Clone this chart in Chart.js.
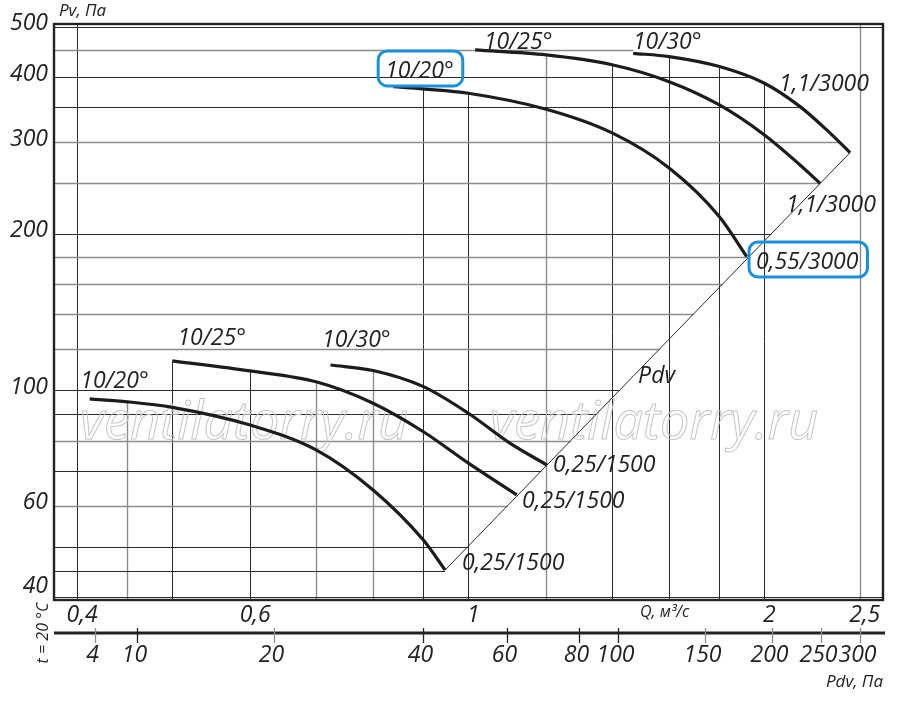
<!DOCTYPE html>
<html>
<head>
<meta charset="utf-8">
<script src="https://cdn.jsdelivr.net/npm/chart.js@4.4.0/dist/chart.umd.min.js"></script>
<style>
  html, body { margin: 0; padding: 0; background: #fff; }
  #wrap { width: 900px; height: 701px; position: relative; }
</style>
</head>
<body>
<div id="wrap"><canvas id="chart"></canvas></div>
<script>
'use strict';

// fan curves, Q in m3/s and Pv in Pa
const small20Q = [0.412, 0.45, 0.5, 0.6, 0.7, 0.8, 0.9, 0.947];
const small20Pv = [96.2, 95.0, 92.7, 85.7, 76.8, 64.3, 51.5, 45.1];
const small25Q = [0.5, 0.6, 0.7, 0.8, 0.9, 1.0, 1.12];
const small25Pv = [113.9, 108.9, 103.8, 94.4, 83.2, 72.4, 62.9];
const small30Q = [0.724, 0.8, 0.9, 1.0, 1.103, 1.202];
const small30Pv = [111.8, 109.1, 101.6, 90.3, 79.0, 71.8];
const big20Q = [0.839, 0.9, 1.0, 1.2, 1.4, 1.6, 1.8, 1.919];
const big20Pv = [383.4, 379.6, 372.4, 346.9, 312.4, 267.5, 215.6, 180.6];
const big25Q = [1.016, 1.2, 1.4, 1.6, 1.8, 2.0, 2.174, 2.278];
const big25Pv = [451.2, 441.3, 422.4, 392.0, 353.6, 309.6, 271.1, 250.0];
const big30Q = [1.471, 1.6, 1.8, 2.0, 2.174, 2.314, 2.444];
const big30Pv = [444.4, 438.0, 419.1, 389.3, 351.0, 316.6, 286.3];

// Pdv line (ends of the curves)
const pdvLineQ = [0.947, 2.444];
const pdvLinePv = [45.1, 286.3];

// grid and tick labels
const qGrid = [0.4, 0.45, 0.5, 0.6, 0.7, 0.8, 0.9, 1, 1.2, 1.4, 1.6, 1.8, 2, 2.5];
const pvGrid = [40, 45, 50, 60, 70, 80, 90, 100, 120, 140, 160, 180, 200, 250, 300, 350, 400, 450, 500];
const qTicks = [0.4, 0.6, 1, 2, 2.5];
const qTickLabels = ['0,4', '0,6', '1', '2', '2,5'];
const pvTicks = [40, 60, 100, 200, 300, 400, 500];
const pvTickLabels = ['40', '60', '100', '200', '300', '400', '500'];
const pdvTickLabels = ['4', '10', '20', '40', '60', '80', '100', '150', '200', '250', '300'];
const pdvTickAtQ = [0.4167, 0.460, 0.635, 0.899, 1.094, 1.295, 1.421, 1.741, 2.036, 2.284, 2.504];

const curves = [
  { q: small20Q, pv: small20Pv },
  { q: small25Q, pv: small25Pv },
  { q: small30Q, pv: small30Pv },
  { q: big20Q, pv: big20Pv },
  { q: big25Q, pv: big25Pv },
  { q: big30Q, pv: big30Pv }
];

// text on the plot: anchor is left end of the baseline, in Q / Pv
const notes = [
  { text: '10/20°', q: 0.403, pv: 101.0 },
  { text: '10/25°', q: 0.506, pv: 122.2 },
  { text: '10/30°', q: 0.710, pv: 121.1 },
  { text: '0,25/1500', q: 0.985, pv: 45.1 },
  { text: '0,25/1500', q: 1.134, pv: 59.4 },
  { text: '0,25/1500', q: 1.219, pv: 69.6 },
  { text: 'Pdv', q: 1.488, pv: 103.3 },
  { text: '10/20°', q: 0.823, pv: 398.5, box: true },
  { text: '10/25°', q: 1.037, pv: 453.1 },
  { text: '10/30°', q: 1.470, pv: 453.1 },
  { text: '1,1/3000', q: 2.070, pv: 376.2 },
  { text: '1,1/3000', q: 2.104, pv: 220.2 },
  { text: '0,55/3000', q: 1.961, pv: 171.0, box: true }
];

const FONT = '"Open Sans", "Noto Sans", sans-serif';
const ink = '#222';
const darkQ = new Set([0.4, 0.5, 0.6, 0.9, 1, 1.4, 1.6, 1.8, 2]);
const darkPv = new Set([40, 45, 50, 70, 90, 100, 200, 350, 400, 500]);

function lerpLog(a0, a1, b0, b1, a) {
  let t = (Math.log(a) - Math.log(a0)) / (Math.log(a1) - Math.log(a0));
  return Math.exp(Math.log(b0) + t * (Math.log(b1) - Math.log(b0)));
}

function pvOnCurve(c, q) {
  let n = c.q.length;
  if (q < c.q[0] || q > c.q[n - 1]) return null;
  for (let i = 0; i < n - 1; i++) {
    if (q <= c.q[i + 1]) return lerpLog(c.q[i], c.q[i + 1], c.pv[i], c.pv[i + 1], q);
  }
  return c.pv[n - 1];
}

function qWhereCurveDrops(c, v) {
  let n = c.pv.length;
  if (c.pv[0] < v * 0.985) return null;
  if (c.pv[0] < v) return c.q[0];
  if (c.pv[n - 1] >= v) return c.q[n - 1];
  for (let i = 0; i < n - 1; i++) {
    if (c.pv[i + 1] < v) return lerpLog(c.pv[i], c.pv[i + 1], c.q[i], c.q[i + 1], v);
  }
  return null;
}

function qOnPdvLine(v) {
  if (v > pdvLinePv[1]) return null;
  if (v < pdvLinePv[0]) return pdvLineQ[0];
  return lerpLog(pdvLinePv[0], pdvLinePv[1], pdvLineQ[0], pdvLineQ[1], v);
}

const gridPlugin = {
  id: 'grid',
  beforeDatasetsDraw(chart) {
    const ctx = chart.ctx, a = chart.chartArea;
    const xs = chart.scales.x, ys = chart.scales.y;
    ctx.save();
    ctx.beginPath();
    ctx.rect(a.left, a.top, a.right - a.left, a.bottom - a.top);
    ctx.clip();

    // vertical lines stop at the highest curve above them
    qGrid.forEach(q => {
      let top = null;
      curves.forEach(c => {
        let p = pvOnCurve(c, q);
        if (p !== null && (top === null || p > top)) top = p;
      });
      let x = Math.round(xs.getPixelForValue(q)) + 0.5;
      let y0 = top === null ? a.top : ys.getPixelForValue(top);
      ctx.beginPath();
      ctx.strokeStyle = darkQ.has(q) ? '#2b2b2b' : '#8c8c8c';
      ctx.lineWidth = darkQ.has(q) ? 1 : 1.4;
      ctx.moveTo(x, a.bottom);
      ctx.lineTo(x, y0);
      ctx.stroke();
    });

    // horizontal lines stop at the curves or at the Pdv line
    pvGrid.forEach((v, i) => {
      let xEnd = a.right;
      if (i > 0 && i < pvGrid.length - 1) {
        let qEnv = null;
        curves.forEach(c => {
          let q = qWhereCurveDrops(c, v);
          if (q !== null && (qEnv === null || q > qEnv)) qEnv = q;
        });
        if (qEnv !== null) {
          let qp = qOnPdvLine(v);
          let qEnd = qp === null ? qEnv : Math.min(qEnv, qp);
          xEnd = xs.getPixelForValue(qEnd);
        }
      }
      let y = Math.round(ys.getPixelForValue(v)) + 0.5;
      ctx.beginPath();
      ctx.strokeStyle = darkPv.has(v) ? '#2b2b2b' : '#8c8c8c';
      ctx.lineWidth = darkPv.has(v) ? 1 : 1.4;
      ctx.moveTo(a.left, y);
      ctx.lineTo(xEnd, y);
      ctx.stroke();
    });

    // watermark
    ctx.font = 'italic 48px ' + FONT;
    let w = ctx.measureText('ventilatorry.ru').width;
    let sz = 48 * 328 / w;
    ctx.font = 'italic ' + sz.toFixed(1) + 'px ' + FONT;
    ctx.strokeStyle = '#c6c6c6';
    ctx.lineWidth = 1;
    ctx.textBaseline = 'alphabetic';
    ctx.strokeText('ventilatorry.ru', 80, 439);
    ctx.strokeText('ventilatorry.ru', 490, 439);
    ctx.restore();
  }
};

function roundBox(ctx, x, y, w, h, r) {
  ctx.beginPath();
  ctx.moveTo(x + r, y);
  ctx.arcTo(x + w, y, x + w, y + h, r);
  ctx.arcTo(x + w, y + h, x, y + h, r);
  ctx.arcTo(x, y + h, x, y, r);
  ctx.arcTo(x, y, x + w, y, r);
  ctx.closePath();
}

const textPlugin = {
  id: 'texts',
  afterDatasetsDraw(chart) {
    const ctx = chart.ctx, a = chart.chartArea;
    const xs = chart.scales.x, ys = chart.scales.y;
    ctx.save();
    ctx.fillStyle = ink;
    ctx.font = 'italic 23px ' + FONT;
    ctx.textAlign = 'left';
    ctx.textBaseline = 'alphabetic';
    notes.forEach(n => {
      let x = xs.getPixelForValue(n.q), y = ys.getPixelForValue(n.pv);
      ctx.fillStyle = ink;
      ctx.fillText(n.text, x, y);
      if (n.box) {
        let w = ctx.measureText(n.text).width;
        ctx.strokeStyle = '#1a8fdb';
        ctx.lineWidth = 3;
        roundBox(ctx, x - 7, y - 27, w + 16, 35, 9);
        ctx.stroke();
      }
    });

    // frame
    ctx.strokeStyle = ink;
    ctx.lineWidth = 2.4;
    ctx.strokeRect(a.left, a.top, a.right - a.left, a.bottom - a.top);

    // Pv ticks
    ctx.font = 'italic 23px ' + FONT;
    ctx.textAlign = 'right';
    ctx.textBaseline = 'middle';
    pvTicks.forEach((v, i) => {
      let y = Math.min(ys.getPixelForValue(v) - 3, a.bottom - 14);
      ctx.fillText(pvTickLabels[i], a.left - 6, y);
    });
    ctx.font = 'italic 17px ' + FONT;
    ctx.textAlign = 'left';
    ctx.textBaseline = 'alphabetic';
    ctx.fillText('Pv, Па', a.left + 5, 16);

    // Q ticks
    ctx.font = 'italic 23px ' + FONT;
    ctx.textAlign = 'center';
    qTicks.forEach((q, i) => {
      ctx.fillText(qTickLabels[i], xs.getPixelForValue(q) + 5, a.bottom + 22);
    });
    ctx.font = 'italic 16px ' + FONT;
    ctx.textAlign = 'left';
    ctx.fillText('Q, м³/с', a.right - 243, a.bottom + 17);

    // Pdv axis
    let yAx = a.bottom + 33;
    ctx.beginPath();
    ctx.strokeStyle = ink;
    ctx.lineWidth = 3;
    ctx.moveTo(a.left, yAx);
    ctx.lineTo(a.right + 2, yAx);
    ctx.stroke();
    ctx.font = 'italic 23px ' + FONT;
    ctx.textAlign = 'center';
    pdvTickAtQ.forEach((q, i) => {
      let x = Math.round(xs.getPixelForValue(q)) + 0.5;
      let gray = ['4', '20', '150', '200', '250', '300'].includes(pdvTickLabels[i]);
      ctx.beginPath();
      ctx.strokeStyle = gray ? '#8c8c8c' : ink;
      ctx.lineWidth = 1.3;
      ctx.moveTo(x, yAx - 5);
      ctx.lineTo(x, yAx + 10);
      ctx.stroke();
      ctx.fillText(pdvTickLabels[i], x - 3, yAx + 29);
    });
    ctx.font = 'italic 17px ' + FONT;
    ctx.textAlign = 'right';
    ctx.fillText('Pdv, Па', a.right, yAx + 54);

    ctx.translate(43, yAx);
    ctx.rotate(-Math.PI / 2);
    ctx.font = 'italic 16px ' + FONT;
    ctx.textAlign = 'center';
    ctx.textBaseline = 'middle';
    ctx.fillText('t = 20 °C', 0, 0);
    ctx.restore();
  }
};

let canvasElem = document.getElementById('chart');

function renderChart() {
  let datasets = curves.map(c => ({
    data: c.q.map((q, i) => ({ x: q, y: c.pv[i] })),
    borderColor: '#1c1c1c',
    borderWidth: 3.2,
    pointRadius: 0,
    cubicInterpolationMode: 'monotone',
    fill: false
  }));
  datasets.push({
    data: pdvLineQ.map((q, i) => ({ x: q, y: pdvLinePv[i] })),
    borderColor: '#2a2a2a',
    borderWidth: 1,
    pointRadius: 0,
    fill: false
  });

  new Chart(canvasElem, {
    type: 'line',
    data: { datasets: datasets },
    options: {
      responsive: true,
      maintainAspectRatio: false,
      animation: false,
      events: [],
      layout: { padding: { left: 54, top: 24, right: 17, bottom: 101 } },
      plugins: { legend: { display: false }, tooltip: { enabled: false } },
      scales: {
        x: { type: 'logarithmic', min: 0.379, max: 2.64, display: false },
        y: { type: 'logarithmic', min: 39.5, max: 506, display: false }
      }
    },
    plugins: [gridPlugin, textPlugin]
  });
}

renderChart();
</script>
</body>
</html>
